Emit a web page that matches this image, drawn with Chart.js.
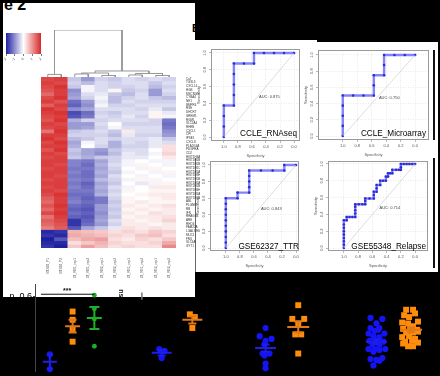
<!DOCTYPE html>
<html><head><meta charset="utf-8">
<script src="https://cdn.jsdelivr.net/npm/chart.js@4.4.1/dist/chart.umd.min.js"></script>
<style>
html,body{margin:0;padding:0;background:#000;width:440px;height:376px;overflow:hidden;position:relative;font-family:"Liberation Sans",Arial,sans-serif}
.abs{position:absolute}
canvas{position:absolute}
</style></head><body>
<div class="abs" style="left:3px;top:3px;width:192px;height:294px;background:#fff"></div>
<div class="abs" style="left:195px;top:40px;width:243px;height:232px;background:#fff"></div>
<div class="abs" style="left:4px;top:-3px;font:bold 16px/16px 'Liberation Sans',Arial;color:#000">e 2</div>
<div class="abs" style="left:192px;top:23px;font:bold 11px/11px 'Liberation Sans',Arial;color:#000">B</div>
<div class="abs" style="left:195px;top:0;width:245px;height:40px;background:#000"></div>
<div class="abs" style="left:317px;top:40px;width:121px;height:2px;background:#000"></div>
<div class="abs" style="left:433px;top:50px;width:2px;height:90px;background:#111"></div>
<div class="abs" style="left:433px;top:158px;width:2px;height:110px;background:#111"></div>
<div class="abs" style="left:195px;top:158px;width:1px;height:114px;background:#666"></div>
<script>
// ================= DATA =================
// Heatmap (row-scaled expression, z-score)
const heatCols = ['BT474_P1','BT474_P2','BT474_RB1_rep1','BT474_RB1_rep2','BT474_RB2_rep1','BT474_RB2_rep2','BT474_RE1_rep1','BT474_RE1_rep2','BT474_RE2_rep1','BT474_RE2_rep2'];
const heatGenes = ['CaT','TGSL3','CXCL14','HGB','MSCNGN','CYBA4','NE1','BMPR4','RSE','DHCR7','GREM1','RGM1','SLC2A4','RHEB','CXCL1','CPI','IPSE1','CXCL8','PLA2G4A','PDGFRA','CD2','HIST1H4A','HIST1H2BD','HIST1H2BK','HIST1H1C','HIST1H2AC','HIST1H3H','HIST1H2BJ','HIST1H2AG','HIST2H2BE','HIST1H4H','HIST1H2AE','HIST1H2BF','ABL','PLGN8T','RB','IFN','RRAGB4','ARE','RHO4','FAM20A','LGALS/EMP','MUC1','FNS','SLC6A','GYT1'];
const heatValues = [
 [1.7,1.8,-0.5,-0.9,-0.4,-0.5,-0.3,-0.4,-0.3,-0.4],
 [1.8,1.7,-0.4,-0.6,-0.3,-0.4,-0.3,-0.3,-0.5,-0.3],
 [1.7,1.9,-0.5,-0.1,-0.3,-0.4,-0.4,-0.3,-0.6,-0.4],
 [1.6,1.8,-1.0,-0.1,-0.3,0.1,-0.5,-0.4,-0.9,-0.3],
 [1.4,1.8,-0.9,-0.3,-0.2,-0.5,-0.6,-0.3,-0.9,-0.4],
 [1.7,1.9,-0.8,-0.4,-0.1,-0.6,-0.4,-0.3,-0.5,-0.6],
 [1.8,1.6,-1.3,-0.9,-0.2,-0.6,-0.3,-0.4,-0.4,-0.4],
 [1.5,1.8,-1.4,-1.0,-0.1,-0.4,-0.4,-0.3,-0.3,-0.3],
 [1.9,1.7,-1.0,-0.8,-0.3,-0.3,-0.3,-0.4,-0.2,-0.5],
 [1.8,1.9,-1.6,-1.3,-0.4,-0.5,-0.3,-0.3,0.1,-0.2],
 [1.7,1.8,-1.5,-1.2,-0.3,-0.4,-0.2,-0.4,0.1,-0.1],
 [1.6,1.9,-0.7,-0.4,-0.4,-0.3,-0.3,-0.3,-0.4,-1.2],
 [1.8,1.7,-0.9,-0.9,-0.3,0.0,-0.4,-0.4,-0.4,-1.3],
 [1.7,1.8,-0.9,-0.8,-0.4,-0.1,-0.3,-0.3,-0.3,-1.2],
 [1.3,1.9,-0.5,-0.4,-0.3,-0.5,0.2,-0.3,-0.3,-1.0],
 [1.8,1.8,-0.4,-0.4,-0.4,-0.6,-0.2,-0.4,-0.4,-0.9],
 [1.9,1.7,-0.6,-0.5,-0.3,-0.4,-0.3,-0.3,-0.2,-0.5],
 [1.7,1.9,-0.8,-0.1,-0.3,-0.7,-0.3,-0.4,-0.2,-0.3],
 [1.8,1.8,-0.7,0.0,-0.4,-0.7,-0.4,-0.4,-0.2,0.3],
 [1.6,1.9,-0.5,-0.8,-0.9,-0.5,-0.3,-0.3,0.0,0.3],
 [1.8,1.7,-0.6,-0.8,-1.0,-0.6,-0.2,-0.3,-0.1,0.4],
 [1.7,1.8,-0.5,-0.7,-0.5,-0.4,-0.2,-0.2,0.0,0.2],
 [1.8,1.8,-1.1,-1.2,-0.8,-0.4,-0.1,0.0,-0.1,-0.1],
 [1.8,1.7,-1.1,-1.3,-0.7,-0.3,-0.1,0.1,0.0,-0.1],
 [1.7,1.8,-1.2,-1.2,-0.8,-0.4,0.0,-0.1,0.1,0.0],
 [1.8,1.8,-1.1,-1.3,-0.7,-0.5,-0.1,0.0,-0.1,0.1],
 [1.8,1.7,-1.2,-1.3,-0.8,-0.3,0.0,-0.1,0.0,-0.1],
 [1.7,1.8,-1.1,-1.2,-0.6,-0.4,-0.1,0.1,0.1,0.0],
 [1.8,1.8,-1.2,-1.4,-0.8,-0.5,0.0,-0.2,-0.1,0.1],
 [1.7,1.8,-1.1,-1.3,-0.7,-0.3,-0.1,0.0,0.2,0.2],
 [1.8,1.7,-1.2,-1.2,-0.8,-0.4,0.1,0.0,0.1,0.1],
 [1.7,1.9,-1.3,-1.3,-0.7,-0.3,0.0,0.1,0.2,0.2],
 [1.5,1.8,-1.2,-1.4,-1.2,-0.4,0.1,0.0,0.1,0.2],
 [1.4,1.8,-1.1,-1.3,-1.2,-0.5,0.1,0.2,0.1,0.1],
 [1.6,1.9,-1.3,-1.4,-0.9,-0.4,0.2,0.1,0.2,0.3],
 [1.4,1.8,-1.4,-1.5,-0.9,-0.5,0.1,0.2,0.1,0.2],
 [1.7,1.9,-1.3,-1.4,-1.0,-0.4,0.2,0.1,0.3,0.2],
 [1.3,1.8,-1.4,-1.5,-0.9,-0.5,0.1,0.2,0.2,0.3],
 [1.5,1.7,-1.8,-1.4,-0.8,-0.3,0.2,0.1,0.2,0.4],
 [1.4,1.6,-1.8,-1.3,-0.9,-0.4,0.2,0.2,0.1,0.2],
 [1.2,1.5,-1.5,-0.8,-0.5,-0.2,0.3,0.2,0.3,0.2],
 [-1.9,-1.8,0.7,0.6,0.5,0.3,0.4,0.3,0.5,0.4],
 [-1.8,-1.9,0.8,0.7,0.6,0.4,0.3,0.5,0.6,0.3],
 [-2.0,-1.5,0.6,0.8,0.9,0.3,0.2,0.4,0.3,0.5],
 [-1.9,-1.9,0.3,0.5,0.7,0.4,0.3,0.3,0.4,0.8],
 [-1.8,-2.0,0.5,0.9,0.6,0.3,0.4,0.3,0.3,1.1]
];
const keyTicks = [-2,-1,0,1,2];
// column dendrogram merges: [child A, child B, height]; leaves 0..9, merged nodes numbered from 10
const dendroMerges = [[0,1,0.55],[2,3,0.64],[4,5,0.32],[6,7,0.43],[8,9,0.32],[11,12,0.85],[13,14,0.75],[15,16,1.28],[10,17,10]];

// ROC curves (specificity, sensitivity)
const rnaSpec = [1,1,1,1,0.857,0.857,0.857,0.857,0.857,0.714,0.571,0.571,0.429,0.286,0.143,0];
const rnaSens = [0,0.125,0.25,0.375,0.375,0.5,0.625,0.75,0.875,0.875,0.875,1,1,1,1,1];
const microSpec = [1,1,1,1,1,0.857,0.714,0.571,0.571,0.571,0.429,0.429,0.429,0.286,0.143,0];
const microSens = [0,0.125,0.25,0.375,0.5,0.5,0.5,0.5,0.625,0.75,0.75,0.875,1,1,1,1];
const ttrSpec = [1,1,1,1,1,1,1,1,1,1,0.833,0.833,0.667,0.667,0.667,0.667,0.667,0.5,0.333,0.167,0.167,0];
const ttrSens = [0,0.067,0.133,0.2,0.267,0.333,0.4,0.467,0.533,0.6,0.6,0.667,0.667,0.733,0.8,0.867,0.933,0.933,0.933,0.933,1,1];
const relSpec = [1,1,1,1,1,1,1,1,1,0.96,0.96,0.92,0.88,0.84,0.84,0.84,0.84,0.84,0.79,0.74,0.70,0.70,0.70,0.64,0.58,0.58,0.58,0.54,0.54,0.54,0.49,0.49,0.45,0.41,0.41,0.38,0.38,0.35,0.32,0.32,0.27,0.23,0.2,0.2,0.2,0.16,0.12,0.08,0.04,0];
const relSens = [0,0.04,0.08,0.12,0.16,0.2,0.24,0.28,0.33,0.33,0.37,0.37,0.37,0.37,0.41,0.45,0.49,0.52,0.52,0.52,0.52,0.56,0.59,0.59,0.59,0.63,0.67,0.67,0.71,0.75,0.75,0.80,0.80,0.80,0.85,0.85,0.89,0.89,0.89,0.93,0.93,0.93,0.93,0.96,1,1,1,1,1,1];
const rocNames = ['CCLE_RNAseq','CCLE_Microarray','GSE62327_TTR','GSE55348_Relapse'];
const rocAUC = ['0.875','0.750','0.843','0.714'];

// Bottom dot plots (values per group)
const groupKind = ['blue','orange','green','blue','orange','blue','orange','blue','orange'];
const groupVals = [
 [0.348,0.284],
 [0.536,0.500,0.460,0.404],
 [0.608,0.548,0.504,0.384],
 [0.372,0.364,0.332],
 [0.524,0.512,0.464],
 [0.464,0.428,0.416,0.408,0.392,0.352,0.352,0.344,0.308,0.288],
 [0.564,0.504,0.504,0.484,0.436,0.436,0.352],
 [0.508,0.504,0.484,0.464,0.464,0.452,0.456,0.44,0.44,0.428,0.424,0.408,0.408,0.404,0.392,0.388,0.372,0.372,0.372,0.36,0.368,0.328,0.324,0.332,0.32,0.30],
 [0.544,0.544,0.52,0.512,0.528,0.488,0.484,0.492,0.472,0.46,0.464,0.456,0.444,0.444,0.448,0.424,0.428,0.416,0.404,0.408,0.40,0.396,0.384,0.384]
];
const groupMean = [0.316,0.472,0.508,0.356,0.500,0.376,0.468,0.404,0.456];
const groupSem = [0.032,0.028,0.048,0.012,0.016,0.016,0.024,0.010,0.010];

// ================= LAYOUT =================
const groupPos = [5.0,7.3,9.5,16.3,19.4,26.8,30.1,38.0,41.5];
const groupJitter = [
 [0,0],[0,0,0,0],[0,0,0,0],[-0.25,0.3,0],[-0.25,0.25,0],
 [0,-0.6,0.6,0,-0.1,-0.3,0.4,-0.1,0,0],
 [0,-0.6,0.6,0,-0.3,0.3,0],
 [-0.6,0.6,0,-0.6,0.3,-0.2,0.2,-0.8,0.8,-0.3,0.3,-0.7,0,0.7,-0.4,0.3,-0.8,-0.2,0.9,-0.3,0.3,-0.6,0,0.6,0.3,-0.3],
 [-0.5,0.2,-0.7,-0.2,0.4,-0.9,-0.3,0.7,0.2,-0.8,-0.1,0.6,-0.5,0.2,0.7,-0.9,-0.2,0.4,-0.6,0.1,0.7,-0.8,-0.3,0.2]
];
const meanHalf = [7,7.5,7.5,10,10,10.5,11,10.5,11];
const capHalf = [3,4,5,4,4,4,4,4,4];
const kindColor = {blue:'rgb(20,20,245)', orange:'rgb(255,140,10)', green:'rgb(30,175,40)'};
const kindLine = {blue:'rgb(30,30,235)', orange:'rgb(225,120,25)', green:'rgb(30,175,40)'};

Chart.defaults.font.family = '"Liberation Sans", Arial, sans-serif';
const base = {responsive:false, animation:false, devicePixelRatio:1, events:[],
  plugins:{legend:{display:false}, tooltip:{enabled:false}}};
function fixAxis(size){ return s => { if (s.isHorizontal()) s.height = size; else s.width = size;
  s.paddingTop = 0; s.paddingBottom = 0; s.paddingLeft = 0; s.paddingRight = 0; }; }
function makeCanvas(left, top, w, h){
  const c = document.createElement('canvas'); c.width = w; c.height = h;
  c.style.left = left + 'px'; c.style.top = top + 'px'; c.style.width = w + 'px'; c.style.height = h + 'px';
  document.body.appendChild(c); return c.getContext('2d');
}
const BLUE = [30,30,160], RED = [215,40,40];
function heatColor(v){
  const t = Math.min(Math.abs(v)/2, 1), c = v < 0 ? BLUE : RED;
  const m = k => Math.round(255 + (c[k]-255)*t);
  return `rgb(${m(0)},${m(1)},${m(2)})`;
}

// ---------- heatmap ----------
const nRows = heatGenes.length;
new Chart(makeCanvas(41, 77, 159, 201), {
  type:'bar',
  data:{labels:heatCols, datasets:heatGenes.map((g,i)=>({
    label:g, data:heatCols.map(()=>1), backgroundColor:heatValues[i].map(heatColor),
    borderWidth:0, inflateAmount:0.5, barPercentage:1, categoryPercentage:1}))},
  options:{...base, layout:{padding:0},
    scales:{
      x:{stacked:true, afterFit:fixAxis(30), grid:{display:false}, border:{display:false},
         ticks:{minRotation:90, maxRotation:90, autoSkip:false, padding:2, font:{size:3.3}, color:'#555'}},
      y:{stacked:true, reverse:true, min:0, max:nRows, position:'right', afterFit:fixAxis(24),
         afterBuildTicks:s=>{ s.ticks = heatGenes.map((g,i)=>({value:i+0.5})); },
         grid:{display:false}, border:{display:false},
         ticks:{autoSkip:false, padding:2, font:{size:3}, color:'#333', callback:v=>heatGenes[Math.floor(v)]}}
    }}
});

// ---------- column dendrogram ----------
(function(){
  const nodeX = heatCols.map((c,i)=>i+0.5), nodeH = heatCols.map(()=>0);
  const segs = dendroMerges.map(([a,b,h])=>{
    nodeX.push((nodeX[a]+nodeX[b])/2); nodeH.push(h);
    return {data:[{x:nodeX[a],y:nodeH[a]},{x:nodeX[a],y:h},{x:nodeX[b],y:h},{x:nodeX[b],y:nodeH[b]}],
      showLine:true, borderColor:'#8a8a8a', borderWidth:0.9, pointRadius:0, clip:false};
  });
  new Chart(makeCanvas(41, 30, 135, 47), {type:'scatter', data:{datasets:segs},
    options:{...base, layout:{padding:0}, scales:{x:{display:false,min:0,max:heatCols.length}, y:{display:false,min:0,max:10}}}});
})();

// ---------- colour key ----------
new Chart(makeCanvas(2, 33, 43, 32), {
  type:'bar', data:{labels:['key'], datasets:[{data:[[keyTicks[0], keyTicks[keyTicks.length-1]]],
    barPercentage:1, categoryPercentage:1, borderWidth:0,
    backgroundColor:(c)=>{ const a = c.chart.chartArea; if(!a) return '#fff';
      const g = c.chart.ctx.createLinearGradient(a.left,0,a.right,0);
      g.addColorStop(0, heatColor(-2)); g.addColorStop(0.5,'#fff'); g.addColorStop(1, heatColor(2)); return g; }}]},
  options:{...base, indexAxis:'y', layout:{padding:{left:4,right:4,top:0,bottom:0}},
    scales:{
      y:{display:false},
      x:{min:-2, max:2, afterFit:fixAxis(11), afterBuildTicks:s=>{ s.ticks = keyTicks.map(v=>({value:v})); },
         grid:{drawOnChartArea:false, tickLength:2, color:'#777'}, border:{display:false},
         ticks:{padding:1, font:{size:3.5}, color:'#555'}}
    }}
});

// ---------- ROC panels ----------
function rocChart(box, anc, spec, sens, name, auc, nameDx, nameDy){
  const xpx = anc.x0 - anc.x1, ypx = anc.y0 - anc.y1;
  const xMax = 1 + (anc.x1 - box.L)/xpx, xMin = -(box.R - anc.x0)/xpx;
  const yMax = 1 + (anc.y1 - box.T)/ypx, yMin = -(box.B - anc.y0)/ypx;
  const tickVals = [0,0.2,0.4,0.6,0.8,1];
  const axisCommon = {afterBuildTicks:s=>{ s.ticks = tickVals.map(v=>({value:v})); },
    grid:{color:'#dcdcdc', lineWidth:0.6, tickLength:2, tickColor:'#888', tickWidth:0.6},
    border:{display:false, dash:[1,1.5]}};
  new Chart(makeCanvas(box.L-15, box.T-3, box.R-box.L+18, box.B-box.T+20), {
    type:'scatter',
    data:{datasets:[
      {data:[{x:1,y:0},{x:0,y:1}], showLine:true, borderColor:'#cfcfcf', borderWidth:0.7, pointRadius:0},
      {data:spec.map((s,i)=>({x:s,y:sens[i]})), showLine:true, borderColor:'rgba(125,125,245,0.95)', borderWidth:2.4,
       pointRadius:1.3, pointBackgroundColor:'rgb(45,45,215)', pointBorderWidth:0}
    ]},
    options:{...base, layout:{padding:{top:3,right:3,left:0,bottom:0}},
      scales:{
        x:{...axisCommon, type:'linear', reverse:true, min:xMin, max:xMax, afterFit:fixAxis(17),
           ticks:{callback:v=>v.toFixed(1), font:{size:4}, color:'#555', padding:1.5, maxRotation:0, autoSkip:false},
           title:{display:true, text:'Specificity', font:{size:4}, color:'#555', padding:0}},
        y:{...axisCommon, type:'linear', min:yMin, max:yMax, afterFit:fixAxis(15),
           ticks:{callback:v=>v.toFixed(1), font:{size:4}, color:'#555', padding:1.5, minRotation:90, maxRotation:90, crossAlign:'center', autoSkip:false},
           title:{display:true, text:'Sensitivity', font:{size:4}, color:'#555', padding:0}}
      }},
    plugins:[{id:'rocDecor', afterDatasetsDraw(ch){
      const {ctx, chartArea:a, scales:{x,y}} = ch;
      ctx.save();
      ctx.strokeStyle = '#9a9a9a'; ctx.lineWidth = 1; ctx.strokeRect(a.left+0.5, a.top+0.5, a.width-1, a.height-1);
      ctx.fillStyle = '#444'; ctx.font = '4px "Liberation Sans", Arial'; ctx.textAlign = 'left'; ctx.textBaseline = 'top';
      ctx.fillText('AUC: ' + auc, x.getPixelForValue(0.5), y.getPixelForValue(0.5));
      ctx.fillStyle = '#000'; ctx.font = '8.2px "Liberation Sans", Arial'; ctx.textAlign = 'right'; ctx.textBaseline = 'middle';
      ctx.fillText(name, a.right - nameDx, a.bottom - nameDy);
      ctx.restore();
    }}]
  });
}
rocChart({L:211,R:301,T:48,B:141}, {x1:224,x0:295,y1:52,y0:137}, rnaSpec, rnaSens, rocNames[0], rocAUC[0], 3, 7);
rocChart({L:318,R:430,T:49,B:140}, {x1:343,x0:416,y1:54,y0:136}, microSpec, microSens, rocNames[1], rocAUC[1], 3, 6);
rocChart({L:210,R:300,T:160,B:251}, {x1:226,x0:297,y1:164,y0:248}, ttrSpec, ttrSens, rocNames[2], rocAUC[2], 0, 4);
rocChart({L:328,R:429,T:160,B:251}, {x1:344,x0:416,y1:163,y0:248}, relSpec, relSens, rocNames[3], rocAUC[3], 2, 4);

// ---------- bottom dot plots ----------
new Chart(makeCanvas(0, 280, 440, 96), {
  type:'scatter',
  data:{datasets:groupVals.map((vals,g)=>({
    data:vals.map((v,i)=>({x:groupPos[g]+groupJitter[g][i], y:v})),
    pointStyle: groupKind[g]==='orange' ? 'rect' : 'circle',
    pointRadius: groupKind[g]==='orange' ? 4.2 : (groupKind[g]==='green' ? 2.4 : 3.1),
    pointBackgroundColor: kindColor[groupKind[g]], pointBorderWidth:0, clip:false}))},
  options:{...base, layout:{padding:0},
    scales:{
      x:{display:false, type:'linear', min:3.5, max:44},
      y:{type:'linear', min:0.272, max:0.656, afterFit:fixAxis(35),
         afterBuildTicks:s=>{ s.ticks = [{value:0.6}]; },
         grid:{drawOnChartArea:false, tickLength:2, color:'#444'}, border:{display:true, color:'#444', width:1},
         ticks:{padding:1, font:{size:9}, color:'#000', callback:v=>'n  ' + v.toFixed(1)}}
    }},
  plugins:[{id:'dotDecor', afterDatasetsDraw(ch){
    const {ctx, scales:{x,y}} = ch;
    ctx.save();
    groupPos.forEach((p,i)=>{
      const cx = x.getPixelForValue(p), my = y.getPixelForValue(groupMean[i]);
      const hy = y.getPixelForValue(groupMean[i]+groupSem[i]), ly = y.getPixelForValue(groupMean[i]-groupSem[i]);
      ctx.strokeStyle = kindLine[groupKind[i]]; ctx.lineWidth = 2;
      ctx.beginPath();
      ctx.moveTo(cx-meanHalf[i], my); ctx.lineTo(cx+meanHalf[i], my);
      ctx.moveTo(cx, hy); ctx.lineTo(cx, ly);
      ctx.moveTo(cx-capHalf[i], hy); ctx.lineTo(cx+capHalf[i], hy);
      ctx.moveTo(cx-capHalf[i], ly); ctx.lineTo(cx+capHalf[i], ly);
      ctx.stroke();
    });
    // significance bracket
    const by = y.getPixelForValue(0.612);
    ctx.strokeStyle = '#111'; ctx.lineWidth = 1;
    ctx.beginPath(); ctx.moveTo(x.getPixelForValue(4.1), by); ctx.lineTo(x.getPixelForValue(9.5), by); ctx.stroke();
    ctx.fillStyle = '#111'; ctx.font = 'bold 7px "Liberation Sans", Arial'; ctx.textAlign = 'center'; ctx.textBaseline = 'middle';
    ctx.fillText('***', x.getPixelForValue(6.75), y.getPixelForValue(0.627));
    ctx.save(); ctx.translate(x.getPixelForValue(12.2), y.getPixelForValue(0.616)); ctx.rotate(Math.PI/2);
    ctx.font = 'bold 7px "Liberation Sans", Arial'; ctx.fillText('ns', 0, 0); ctx.restore();
    ctx.strokeStyle = '#777'; ctx.lineWidth = 1.5;
    ctx.beginPath(); ctx.moveTo(x.getPixelForValue(14.3), y.getPixelForValue(0.62)); ctx.lineTo(x.getPixelForValue(14.3), y.getPixelForValue(0.588)); ctx.stroke();
    ctx.restore();
  }}]
});
</script>
</body></html>
